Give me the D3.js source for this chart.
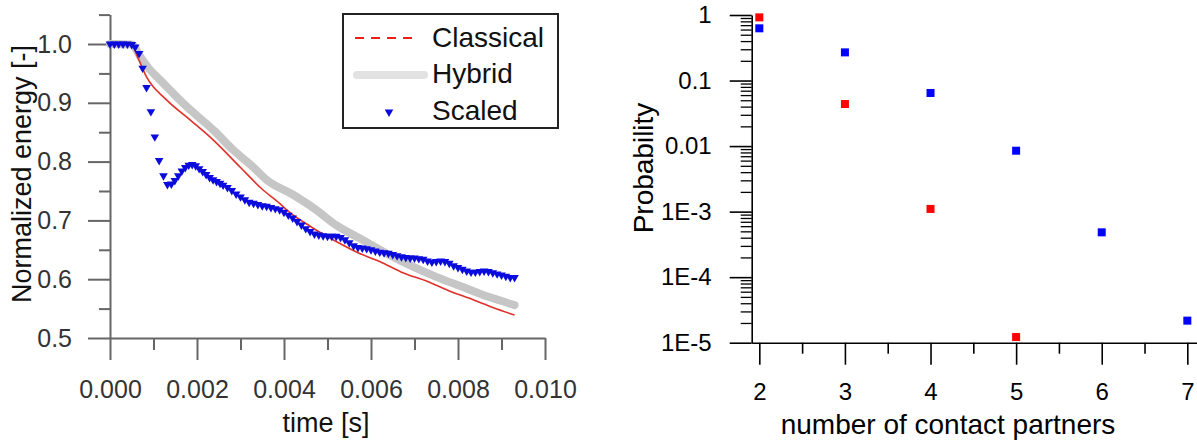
<!DOCTYPE html>
<html>
<head>
<meta charset="utf-8">
<script src="https://cdn.jsdelivr.net/npm/d3@7"></script>
<style>
  html, body { margin: 0; padding: 0; background: #fff; }
  svg { display: block; font-family: "Liberation Sans", Arial, sans-serif; }
</style>
</head>
<body>
<div id="container"></div>
<script>
// ---------- left chart data: normalized energy vs time ----------
var classical = [
  [0, 1.0], [0.0005, 0.998], [0.00065, 0.975], [0.00084, 0.944], [0.0013, 0.905],
  [0.00184, 0.871], [0.00237, 0.837], [0.0030, 0.790], [0.0035, 0.753], [0.0039, 0.729],
  [0.00406, 0.718], [0.0046, 0.690], [0.0052, 0.664], [0.0057, 0.645], [0.0062, 0.630],
  [0.0067, 0.612], [0.0073, 0.596], [0.0078, 0.580], [0.00835, 0.565], [0.0088, 0.552],
  [0.0093, 0.539]
];
var hybrid = [
  [0, 1.0], [0.0005, 0.999], [0.0007, 0.978], [0.0009, 0.958], [0.00115, 0.939],
  [0.0014, 0.920], [0.0016, 0.905], [0.0020, 0.878], [0.0024, 0.852], [0.0028, 0.822],
  [0.0033, 0.790], [0.0036, 0.769], [0.0042, 0.744], [0.0047, 0.720], [0.0052, 0.692],
  [0.0058, 0.667], [0.0064, 0.642], [0.0070, 0.620], [0.0075, 0.604], [0.0081, 0.587],
  [0.0087, 0.570], [0.0093, 0.556]
];
var scaled = [
  [0.0000, 1.000], [0.0001, 1.000], [0.0002, 1.000], [0.0003, 1.000], [0.0004, 1.000],
  [0.0005, 0.999], [0.00058, 0.995], [0.00067, 0.984], [0.00075, 0.959], [0.00084, 0.926],
  [0.00094, 0.885], [0.00103, 0.842], [0.00113, 0.802], [0.00123, 0.776], [0.00132, 0.761],
  [0.00141, 0.762], [0.00149, 0.768], [0.00157, 0.776], [0.00165, 0.784], [0.00173, 0.790],
  [0.00181, 0.794], [0.00189, 0.795], [0.00197, 0.793], [0.00205, 0.788], [0.00213, 0.783],
  [0.00221, 0.778], [0.00229, 0.773], [0.00237, 0.769], [0.00245, 0.766], [0.00253, 0.763],
  [0.0026, 0.760], [0.0027, 0.756], [0.0028, 0.751], [0.0029, 0.745], [0.0030, 0.740],
  [0.0031, 0.735], [0.0032, 0.731], [0.0033, 0.729], [0.0034, 0.727], [0.0035, 0.725],
  [0.0036, 0.724], [0.0037, 0.722], [0.0038, 0.720], [0.0039, 0.718], [0.0040, 0.714],
  [0.0041, 0.709], [0.0042, 0.704], [0.0043, 0.698], [0.0044, 0.692], [0.0045, 0.686],
  [0.0046, 0.681], [0.0047, 0.677], [0.0048, 0.675], [0.0049, 0.674], [0.0050, 0.673],
  [0.0051, 0.673], [0.0052, 0.673], [0.0053, 0.671], [0.0054, 0.667], [0.0055, 0.662],
  [0.0056, 0.657], [0.0057, 0.654], [0.0058, 0.653], [0.0059, 0.652], [0.0060, 0.650],
  [0.0061, 0.648], [0.0062, 0.646], [0.0063, 0.645], [0.0064, 0.644], [0.0065, 0.642],
  [0.0066, 0.640], [0.0067, 0.638], [0.0068, 0.637], [0.0069, 0.636], [0.0070, 0.636],
  [0.0071, 0.635], [0.0072, 0.634], [0.0073, 0.631], [0.0074, 0.629], [0.0075, 0.630],
  [0.0076, 0.631], [0.0077, 0.630], [0.0078, 0.627], [0.0079, 0.623], [0.0080, 0.620],
  [0.0081, 0.617], [0.0082, 0.614], [0.0083, 0.612], [0.0084, 0.612], [0.0085, 0.613],
  [0.0086, 0.614], [0.0087, 0.613], [0.0088, 0.611], [0.0089, 0.609], [0.0090, 0.607],
  [0.0091, 0.605], [0.0092, 0.603], [0.0093, 0.603]
];
var leftXTicks = [0, 0.002, 0.004, 0.006, 0.008, 0.010];
var leftXMinor = [0.001, 0.003, 0.005, 0.007, 0.009];
var leftYTicks = [0.5, 0.6, 0.7, 0.8, 0.9, 1.0];
var leftYMinor = [0.55, 0.65, 0.75, 0.85, 0.95, 1.05];
var legendNames = ["Classical", "Hybrid", "Scaled"];

// ---------- right chart data: probability vs contact partners ----------
var partnersRed = [2, 3, 4, 5];
var probRed = [0.92, 0.0438, 1.10e-3, 1.22e-5];
var partnersBlue = [2, 3, 4, 5, 6, 7];
var probBlue = [0.626, 0.269, 0.0646, 8.5e-3, 4.83e-4, 2.17e-5];
var rightXTicks = [2, 3, 4, 5, 6, 7];
var rightXMinor = [2.5, 3.5, 4.5, 5.5, 6.5];
var rightYTicks = [1, 0.1, 0.01, 1e-3, 1e-4, 1e-5];
var rightYLabels = ["1", "0.1", "0.01", "1E-3", "1E-4", "1E-5"];

var width = 1197, height = 441;

var svg = d3.select('#container')
  .append('svg')
  .attr('width', width)
  .attr('height', height);

/*-------------------------------------------------------------------------------------*/
// left chart
var left = svg.append('g');
var lgray = '#666';
var ltext = '#333';

var x_l = d3.scaleLinear().domain([0, 0.010]).range([110, 545]);
var y_l = d3.scaleLinear().domain([0.5, 1.05]).range([338, 14.6]);

// axis groups get d3's own font attrs; drop them so the svg font applies
function styleAxis(g, col, w) {
  g.attr('font-family', null).attr('font-size', null);
  g.selectAll('path, line').attr('stroke', col).attr('stroke-width', w);
}

left.append('g')
  .attr('transform', `translate(0, ${y_l(0.5)})`)
  .call(d3.axisBottom(x_l).tickValues(leftXMinor).tickSize(12).tickSizeOuter(0).tickFormat(''))
  .call(g => g.select('.domain').remove())
  .call(g => styleAxis(g, lgray, 2));

left.append('g')
  .attr('transform', `translate(0, ${y_l(0.5)})`)
  .call(d3.axisBottom(x_l).tickValues(leftXTicks).tickSize(22).tickSizeOuter(0).tickPadding(20)
    .tickFormat(d3.format('.3f')))
  .call(g => styleAxis(g, lgray, 2))
  .call(g => g.selectAll('text').attr('font-size', 25).attr('fill', ltext));

left.append('g')
  .attr('transform', `translate(${x_l(0)}, 0)`)
  .call(d3.axisLeft(y_l).tickValues(leftYMinor).tickSize(11).tickSizeOuter(0).tickFormat(''))
  .call(g => g.select('.domain').remove())
  .call(g => styleAxis(g, lgray, 2));

left.append('g')
  .attr('transform', `translate(${x_l(0)}, 0)`)
  .call(d3.axisLeft(y_l).tickValues(leftYTicks).tickSize(22).tickSizeOuter(0).tickPadding(16)
    .tickFormat(d3.format('.1f')))
  .call(g => styleAxis(g, lgray, 2))
  .call(g => g.selectAll('text').attr('font-size', 25).attr('fill', ltext));

var lineL = d3.line().x(d => x_l(d[0])).y(d => y_l(d[1])).curve(d3.curveMonotoneX);

left.append('path')
  .datum(hybrid)
  .attr('d', lineL)
  .attr('fill', 'none')
  .attr('stroke', '#c6c6c6')
  .attr('stroke-width', 8)
  .attr('stroke-linecap', 'round');

left.append('path')
  .datum(classical)
  .attr('d', lineL)
  .attr('fill', 'none')
  .attr('stroke', '#e0302a')
  .attr('stroke-width', 1.6);

var tri = d3.symbol().type(d3.symbolTriangle).size(32);
left.selectAll('.tri')
  .data(scaled)
  .join('path')
  .attr('class', 'tri')
  .attr('d', tri)
  .attr('fill', '#0b0bdc')
  .attr('transform', d => `translate(${x_l(d[0])},${y_l(d[1])}) rotate(180)`);

left.append('text')
  .attr('transform', `translate(31, ${174}) rotate(-90)`)
  .attr('text-anchor', 'middle')
  .attr('font-size', 27)
  .attr('fill', '#111')
  .text('Normalized energy [-]');

left.append('text')
  .attr('x', 326).attr('y', 432)
  .attr('text-anchor', 'middle')
  .attr('font-size', 27)
  .attr('fill', '#111')
  .text('time [s]');

// legend
var legend = left.append('g');
legend.append('rect')
  .attr('x', 343).attr('y', 14).attr('width', 215).attr('height', 114)
  .attr('fill', '#fff')
  .attr('stroke', '#222')
  .attr('stroke-width', 2);

var legY = [47, 83, 120];
legend.append('line')
  .attr('x1', 355).attr('x2', 415).attr('y1', legY[0] - 9).attr('y2', legY[0] - 9)
  .attr('stroke', '#ff1a1a').attr('stroke-width', 2).attr('stroke-dasharray', '9,7');
legend.append('line')
  .attr('x1', 357).attr('x2', 424).attr('y1', legY[1] - 8).attr('y2', legY[1] - 8)
  .attr('stroke', '#e2e2e2').attr('stroke-width', 8).attr('stroke-linecap', 'round');
legend.append('path')
  .attr('d', tri)
  .attr('fill', '#0b0bdc')
  .attr('transform', `translate(389, ${legY[2] - 8}) rotate(180)`);

legend.selectAll('.legtext')
  .data(legendNames)
  .join('text')
  .attr('class', 'legtext')
  .attr('x', 432)
  .attr('y', (d, i) => legY[i])
  .attr('font-size', 28)
  .attr('fill', '#111')
  .text(d => d);

/*-------------------------------------------------------------------------------------*/
// right chart
var right = svg.append('g');

var x_r = d3.scaleLinear().domain([1.911, 7.113]).range([751.7, 1197]);
var y_r = d3.scaleLog().domain([1e-5, 1]).range([342.7, 15]);

var rightYMinor = [];
[1e-5, 1e-4, 1e-3, 1e-2, 1e-1].forEach(base => {
  [2, 3, 4, 5, 6, 7, 8, 9].forEach(k => rightYMinor.push(base * k));
});

right.append('g')
  .attr('transform', `translate(0, ${y_r(1e-5)})`)
  .call(d3.axisBottom(x_r).tickValues(rightXMinor).tickSize(11).tickSizeOuter(0).tickFormat(''))
  .call(g => g.select('.domain').remove())
  .call(g => styleAxis(g, '#000', 1.6));

right.append('g')
  .attr('transform', `translate(0, ${y_r(1e-5)})`)
  .call(d3.axisBottom(x_r).tickValues(rightXTicks).tickSize(22).tickSizeOuter(0).tickPadding(18)
    .tickFormat(d3.format('d')))
  .call(g => styleAxis(g, '#000', 1.6))
  .call(g => g.selectAll('text').attr('font-size', 24).attr('fill', '#000'));

right.append('g')
  .attr('transform', `translate(${x_r.range()[0]}, 0)`)
  .call(d3.axisLeft(y_r).tickValues(rightYMinor).tickSize(11).tickSizeOuter(0).tickFormat(''))
  .call(g => g.select('.domain').remove())
  .call(g => styleAxis(g, '#000', 1.3));

right.append('g')
  .attr('transform', `translate(${x_r.range()[0]}, 0)`)
  .call(d3.axisLeft(y_r).tickValues(rightYTicks).tickSize(22).tickSizeOuter(0).tickPadding(18)
    .tickFormat((d, i) => rightYLabels[i]))
  .call(g => styleAxis(g, '#000', 1.6))
  .call(g => g.selectAll('text').attr('font-size', 24).attr('fill', '#000'));

var sq = 8;
right.selectAll('.blue')
  .data(partnersBlue.map((p, i) => [p, probBlue[i]]))
  .join('rect')
  .attr('class', 'blue')
  .attr('x', d => x_r(d[0]) - sq / 2)
  .attr('y', d => y_r(d[1]) - sq / 2)
  .attr('width', sq).attr('height', sq)
  .attr('fill', '#0000ff');

right.selectAll('.red')
  .data(partnersRed.map((p, i) => [p, probRed[i]]))
  .join('rect')
  .attr('class', 'red')
  .attr('x', d => x_r(d[0]) - sq / 2)
  .attr('y', d => y_r(d[1]) - sq / 2)
  .attr('width', sq).attr('height', sq)
  .attr('fill', '#ff0000');

right.append('text')
  .attr('transform', `translate(653, 168) rotate(-90)`)
  .attr('text-anchor', 'middle')
  .attr('font-size', 28)
  .attr('fill', '#000')
  .text('Probability');

right.append('text')
  .attr('x', 948).attr('y', 434)
  .attr('text-anchor', 'middle')
  .attr('font-size', 28)
  .attr('fill', '#000')
  .text('number of contact partners');
</script>
</body>
</html>
